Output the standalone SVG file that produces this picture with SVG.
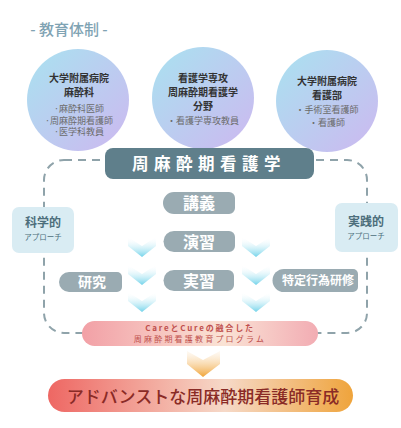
<svg xmlns="http://www.w3.org/2000/svg" width="401" height="428" viewBox="0 0 401 428">
<defs>
<linearGradient id="gCircle" x1="0" y1="0" x2="1" y2="1">
<stop offset="0" stop-color="#a9e2f0"/>
<stop offset="1" stop-color="#cdb8f0"/>
</linearGradient>
<linearGradient id="gChev" x1="0" y1="0" x2="0" y2="1">
<stop offset="0" stop-color="#ffffff" stop-opacity="0"/>
<stop offset="1" stop-color="#72d3ea"/>
</linearGradient>
<linearGradient id="gOrange" x1="0" y1="0" x2="0" y2="1">
<stop offset="0" stop-color="#fbe3c4" stop-opacity="0.2"/>
<stop offset="1" stop-color="#f0a437"/>
</linearGradient>
<linearGradient id="gCare" x1="0" y1="0" x2="1" y2="0">
<stop offset="0" stop-color="#f2a0a6"/>
<stop offset="0.6" stop-color="#fae3d5"/>
<stop offset="1" stop-color="#f2acb3"/>
</linearGradient>
<linearGradient id="gFinal" x1="0" y1="0" x2="1" y2="0">
<stop offset="0" stop-color="#ee6763"/>
<stop offset="0.58" stop-color="#f6d9c8"/>
<stop offset="1" stop-color="#efa43c"/>
</linearGradient>
<path id="chev" d="M0,0 L14,9 L28,0 L28,9 L14,20 L0,9 Z" fill="url(#gChev)"/>
</defs>
<style>
text{font-family:"Noto Sans CJK JP","Noto Sans",sans-serif;text-anchor:middle}
.title{font-size:15px;font-weight:500;fill:#7fa3b3}
.cb{font-size:10px;font-weight:700;fill:#333}
.cs{font-size:9px;fill:#6b6b6b}
.pill{fill:#9aabb2}
.pt{fill:#fff;font-weight:700}
.side{fill:#d9ecf3}
.st{fill:#4c6e7b;font-weight:700}
.dash{fill:none;stroke:#8fa3aa;stroke-width:2;stroke-dasharray:8 6}
</style>
<rect width="401" height="428" fill="#ffffff"/>
<text class="title" x="69" y="35">- 教育体制 -</text>

<g id="connectors">
<rect class="dash" x="44" y="160" width="323" height="173" rx="20"/>
<use href="#chev" x="128" y="237"/>
<use href="#chev" x="128" y="265"/>
<use href="#chev" x="128" y="292"/>
<use href="#chev" x="242" y="237"/>
<use href="#chev" x="242" y="265"/>
<use href="#chev" x="242" y="292"/>
<path d="M187,351 L203,360 L220,351 L220,364 L203,377 L187,364 Z" fill="url(#gOrange)"/>
</g>

<g id="circle-left">
<circle cx="78" cy="100" r="51" fill="url(#gCircle)"/>
<text class="cb" x="79" y="82">大学附属病院</text>
<text class="cb" x="79" y="96">麻酔科</text>
<text class="cs" x="79" y="112">·麻酔科医師</text>
<text class="cs" x="79" y="123.5">·周麻酔期看護師</text>
<text class="cs" x="79" y="135">·医学科教員</text>
</g>
<g id="circle-mid">
<circle cx="203" cy="98" r="51" fill="url(#gCircle)"/>
<text class="cb" x="203" y="82">看護学専攻</text>
<text class="cb" x="203" y="96">周麻酔期看護学</text>
<text class="cb" x="203" y="110">分野</text>
<text class="cs" x="203" y="123.5">・看護学専攻教員</text>
</g>
<g id="circle-right">
<circle cx="327" cy="101" r="51" fill="url(#gCircle)"/>
<text class="cb" x="327" y="85">大学附属病院</text>
<text class="cb" x="327" y="99">看護部</text>
<text class="cs" x="327" y="112.5">・手術室看護師</text>
<text class="cs" x="327" y="125.5">・看護師</text>
</g>

<g id="banner">
<rect x="105" y="148" width="209" height="31" rx="8" fill="#5f7f8b"/>
<text x="209" y="170" style="font-size:16.5px;font-weight:700;fill:#fff;letter-spacing:5.5px">周麻酔期看護学</text>
</g>

<g id="side-left">
<rect class="side" x="12" y="207" width="62" height="46" rx="7"/>
<text class="st" x="43" y="227" style="font-size:12px">科学的</text>
<text class="st" x="43" y="240" style="font-size:7.5px;font-weight:400">アプローチ</text>
</g>
<g id="side-right">
<rect class="side" x="335" y="203" width="63" height="49" rx="7"/>
<text class="st" x="366" y="226" style="font-size:12px">実践的</text>
<text class="st" x="366" y="239" style="font-size:7.5px;font-weight:400">アプローチ</text>
</g>

<g id="lecture">
<path class="pill" d="M174,192 H229 A6,6 0 0 1 235,198 V208 A6,6 0 0 1 229,214 H174 A11,11 0 0 1 174,192 Z"/>
<text class="pt" x="199" y="209" style="font-size:16px">講義</text>
</g>
<g id="exercise">
<path class="pill" d="M174,231 H229 A6,6 0 0 1 235,237 V246 A6,6 0 0 1 229,252 H174 A10.5,10.5 0 0 1 174,231 Z"/>
<text class="pt" x="199" y="247.5" style="font-size:16px">演習</text>
</g>
<g id="practice">
<path class="pill" d="M174,270 H228 A6,6 0 0 1 234,276 V285 A6,6 0 0 1 228,291 H174 A10.5,10.5 0 0 1 174,270 Z"/>
<text class="pt" x="199" y="286.5" style="font-size:16px">実習</text>
</g>
<g id="research">
<path class="pill" d="M69,272 H117 A5,5 0 0 1 122,277 V287 A5,5 0 0 1 117,292 H69 A10,10 0 0 1 69,272 Z"/>
<text class="pt" x="92" y="287" style="font-size:14px">研究</text>
</g>
<g id="tokutei">
<path class="pill" d="M284,269 H353 A5,5 0 0 1 358,274 V287 A5,5 0 0 1 353,292 H284 A11.5,11.5 0 0 1 284,269 Z"/>
<text class="pt" x="318" y="285" style="font-size:12px">特定行為研修</text>
</g>

<g id="program">
<rect x="82" y="321" width="236" height="25" rx="12.5" fill="url(#gCare)"/>
<text x="200" y="331" style="font-size:8px;font-weight:700;fill:#c0504d;letter-spacing:1.8px">CareとCureの融合した</text>
<text x="200" y="342" style="font-size:8px;fill:#c0504d;letter-spacing:2.2px">周麻酔期看護教育プログラム</text>
</g>

<g id="goal">
<rect x="48" y="379" width="305" height="33" rx="16.5" fill="url(#gFinal)"/>
<text x="203" y="403" style="font-size:17px;font-weight:500;fill:#8a2b26">アドバンストな周麻酔期看護師育成</text>
</g>
</svg>
